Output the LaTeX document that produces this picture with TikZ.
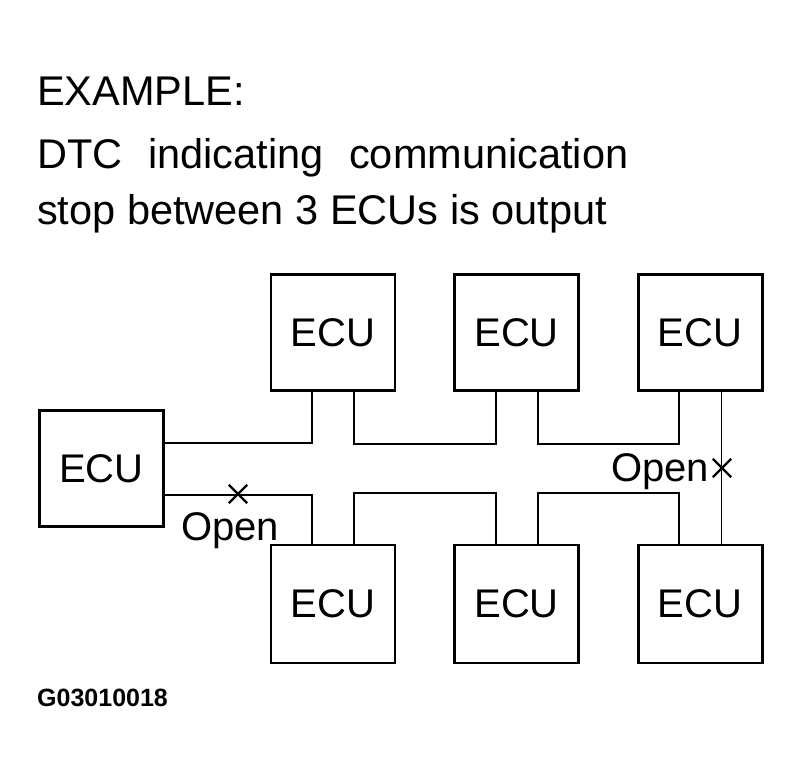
\documentclass[tikz,border=0pt]{standalone}
\usepackage{fontspec}
\setmainfont{Liberation Sans}
\usetikzlibrary{positioning,shapes.misc}

\tikzset{
  ecu/.style={draw, line width=2.6pt, minimum width=124pt, minimum height=116pt,
    inner sep=0pt, font=\fontsize{40}{48}\selectfont},
  wire/.style={line width=1.8pt},
  thinwire/.style={line width=1pt},
  brk/.style={cross out, draw, line width=2.4pt, minimum size=16pt, inner sep=0pt},
  txt/.style={anchor=base west, inner sep=0pt, font=\fontsize{41.5}{50}\selectfont},
  lbl/.style={anchor=base west, inner sep=0pt, font=\fontsize{40}{48}\selectfont}
}

\begin{document}
\begin{tikzpicture}[x=1pt,y=-1pt]
  \useasboundingbox (0,0) rectangle (802,783);

  % Define texts
  \node[txt] (head)  at (37,106) {EXAMPLE:};
  \node[txt] (line1) at (37,169) {DTC\hspace{0.62em}indicating\hspace{0.62em}communication};
  \node[txt] (line2) at (37,225) {stop between 3 ECUs is output};

  % Define nodes
  \node[ecu]                      (t1)  at (333,332.5) {ECU};
  \node[ecu, right=57pt of t1]    (t2)  {ECU};
  \node[ecu, right=57pt of t2]    (t3)  {ECU};
  \node[ecu, minimum height=118pt, below=152pt of t1]   (b1)  {ECU};
  \node[ecu, minimum height=118pt, below=152pt of t2]   (b2)  {ECU};
  \node[ecu, minimum height=118pt, below=152pt of t3]   (b3)  {ECU};
  \node[ecu]                      (lft) at (101.5,468.5) {ECU};

  % Connect the nodes
  \draw[wire] (lft.east |- 0,443) -| ([xshift=-21pt]t1.south);
  \draw[wire] ([xshift=21pt]t1.south) -- ++(0,52) -| ([xshift=-21pt]t2.south);
  \draw[wire] ([xshift=21pt]t2.south) -- ++(0,52) -| ([xshift=-21pt]t3.south);
  \draw[wire] (lft.east |- 0,495) -| ([xshift=-21pt]b1.north);
  \draw[wire] ([xshift=21pt]b1.north) -- ++(0,-51) -| ([xshift=-21pt]b2.north);
  \draw[wire] ([xshift=21pt]b2.north) -- ++(0,-51) -| ([xshift=-21pt]b3.north);
  \draw[thinwire] ([xshift=21pt]t3.south) -- ([xshift=21pt]b3.north);

  % Open circuits
  \node[brk] (cut1) at (238,494) {};
  \node[brk] (cut2) at (722,468) {};
  \node[lbl] (open1) at (181,540) {Open};
  \node[lbl] (open2) at (611,481) {Open};

  \node[anchor=base west, inner sep=0pt, font=\fontsize{25}{30}\selectfont\bfseries]
    (code) at (37,706) {G03010018};
\end{tikzpicture}
\end{document}
